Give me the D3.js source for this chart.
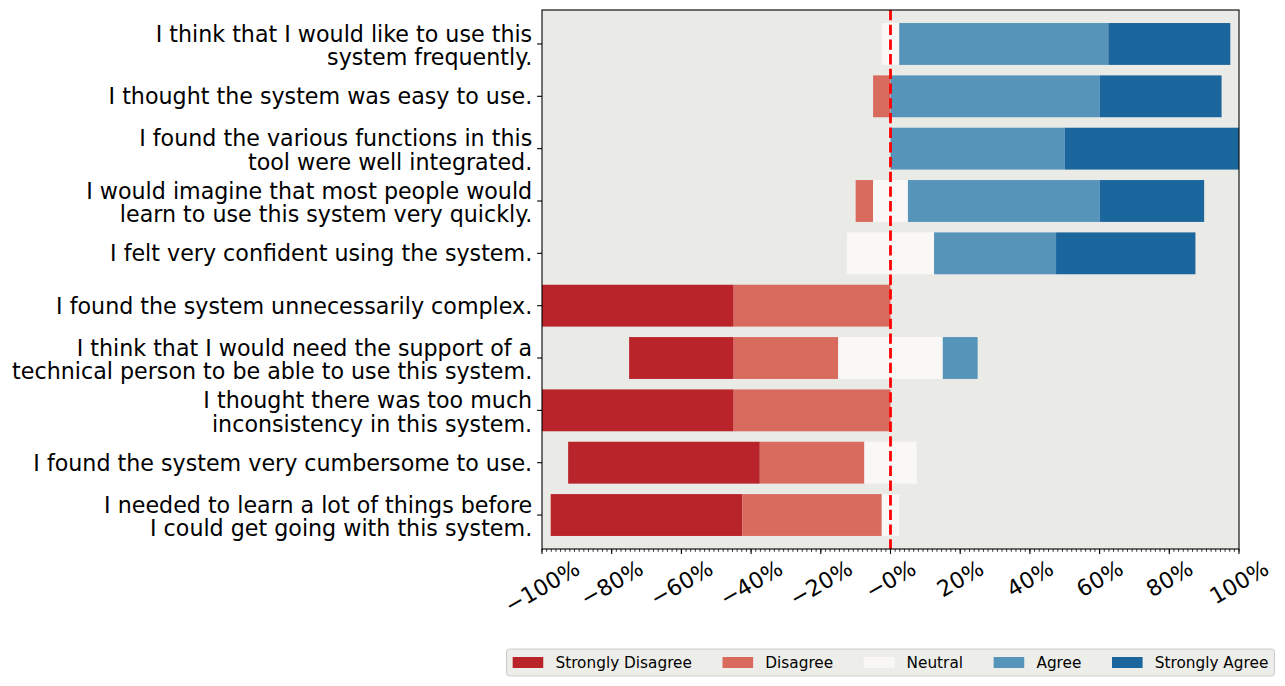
<!DOCTYPE html>
<html>
<head>
<meta charset="utf-8">
<script src="https://cdn.jsdelivr.net/npm/d3@7"></script>
<style>
  html, body { margin: 0; padding: 0; background: #fff; }
  svg { display: block; font-family: "DejaVu Sans", sans-serif; }
</style>
</head>
<body>
<svg class="chart" width="1285" height="686"></svg>
<script>
var questions = [
  'I think that I would like to use this\nsystem frequently.',
  'I thought the system was easy to use.',
  'I found the various functions in this\ntool were well integrated.',
  'I would imagine that most people would\nlearn to use this system very quickly.',
  'I felt very confident using the system.',
  'I found the system unnecessarily complex.',
  'I think that I would need the support of a\ntechnical person to be able to use this system.',
  'I thought there was too much\ninconsistency in this system.',
  'I found the system very cumbersome to use.',
  'I needed to learn a lot of things before\nI could get going with this system.'
];

var stronglyDisagree = [0, 0, 0, 0, 0, 55, 30, 55, 55, 55];
var disagree         = [0, 5, 0, 5, 0, 45, 30, 45, 30, 40];
var neutral          = [5, 0, 0, 10, 25, 0, 30, 0, 15, 5];
var agree            = [60, 60, 50, 55, 35, 0, 10, 0, 0, 0];
var stronglyAgree    = [35, 35, 50, 30, 40, 0, 0, 0, 0, 0];

var keys = ['Strongly Disagree', 'Disagree', 'Neutral', 'Agree', 'Strongly Agree'];
var colors = ['#b9242b', '#d96b5e', '#f9f8f6', '#5794ba', '#1c669e'];

var xTicks = [-100, -80, -60, -40, -20, 0, 20, 40, 60, 80, 100];
var xTickLabels = ['\u2212100%', '\u221280%', '\u221260%', '\u221240%', '\u221220%', '\u22120%',
                   '20%', '40%', '60%', '80%', '100%'];

// build rows for d3.stack
var rows = questions.map(function (q, i) {
  return {
    q: q,
    'Strongly Disagree': stronglyDisagree[i],
    'Disagree': disagree[i],
    'Neutral': neutral[i],
    'Agree': agree[i],
    'Strongly Agree': stronglyAgree[i]
  };
});

// center the neutral block on zero
var stacked = d3.stack().keys(keys)(rows);
stacked.forEach(function (s) {
  s.forEach(function (d) {
    var shift = d.data['Strongly Disagree'] + d.data['Disagree'] + d.data['Neutral'] / 2;
    d[0] -= shift;
    d[1] -= shift;
  });
});

var plotLeft = 542, plotRight = 1239, plotTop = 10, plotBottom = 549;

var svg = d3.select('.chart');

var xScale = d3.scaleLinear()
  .domain([-100, 100])
  .range([plotLeft, plotRight]);

var yScale = d3.scaleBand()
  .domain(questions)
  .range([17.8, 541.2])
  .paddingInner(0.2)
  .paddingOuter(0.1);

svg.append('rect')
  .attr('x', plotLeft).attr('y', plotTop)
  .attr('width', plotRight - plotLeft).attr('height', plotBottom - plotTop)
  .attr('fill', '#eaeae6');

svg.append('defs').append('clipPath').attr('id', 'plotclip')
  .append('rect')
  .attr('x', plotLeft).attr('y', plotTop)
  .attr('width', plotRight - plotLeft).attr('height', plotBottom - plotTop);

svg.append('g')
  .attr('clip-path', 'url(#plotclip)')
  .selectAll('g.bars')
  .data(stacked)
  .enter()
  .append('g')
  .classed('bars', true)
  .style('fill', function (d, i) { return colors[i]; })
  .selectAll('rect')
  .data(function (d) { return d.filter(function (e) { return e[1] - e[0] > 0; }); })
  .join('rect')
  .attr('x', function (d) { return xScale(d[0]); })
  .attr('y', function (d) { return yScale(d.data.q); })
  .attr('width', function (d) { return xScale(d[1]) - xScale(d[0]); })
  .attr('height', yScale.bandwidth());

// zero line
svg.append('line')
  .attr('x1', xScale(0)).attr('x2', xScale(0))
  .attr('y1', plotTop).attr('y2', plotBottom)
  .attr('stroke', 'red')
  .attr('stroke-width', 2.8)
  .attr('stroke-dasharray', '10.3,4.4');

// frame
svg.append('rect')
  .attr('x', plotLeft).attr('y', plotTop)
  .attr('width', plotRight - plotLeft).attr('height', plotBottom - plotTop)
  .attr('fill', 'none')
  .attr('stroke', '#000')
  .attr('stroke-width', 1.1);

// x axis ticks
var minorTicks = d3.range(-100, 100.01, 20 / 15);
svg.append('g').selectAll('line')
  .data(minorTicks)
  .join('line')
  .attr('x1', function (d) { return xScale(d); })
  .attr('x2', function (d) { return xScale(d); })
  .attr('y1', plotBottom).attr('y2', plotBottom + 2.8)
  .attr('stroke', '#000').attr('stroke-width', 0.8);

svg.append('g').selectAll('line')
  .data(xTicks)
  .join('line')
  .attr('x1', function (d) { return xScale(d); })
  .attr('x2', function (d) { return xScale(d); })
  .attr('y1', plotBottom).attr('y2', plotBottom + 4.9)
  .attr('stroke', '#000').attr('stroke-width', 1.1);

var fs = 22.2;
var xl = svg.append('g').selectAll('text')
  .data(xTicks)
  .join('text')
  .attr('font-size', fs)
  .attr('text-anchor', 'middle')
  .attr('dominant-baseline', 'central')
  .attr('fill', '#000')
  .text(function (d, i) { return xTickLabels[i]; });

xl.attr('transform', function (d) {
  var w = this.getComputedTextLength();
  var h = fs * 1.16;
  var H = w * 0.5 + h * 0.866;
  var cy = plotBottom + 4.9 + 1 + H / 2;
  return 'translate(' + xScale(d) + ',' + cy + ') rotate(-30)';
});

// y axis ticks and labels
var yc = function (q) { return yScale(q) + yScale.bandwidth() / 2; };

svg.append('g').selectAll('line')
  .data(questions)
  .join('line')
  .attr('x1', plotLeft - 4.9).attr('x2', plotLeft)
  .attr('y1', yc).attr('y2', yc)
  .attr('stroke', '#000').attr('stroke-width', 1.1);

svg.append('g').selectAll('text')
  .data(questions)
  .join('text')
  .attr('font-size', fs)
  .attr('text-anchor', 'end')
  .attr('fill', '#000')
  .each(function (q) {
    var lines = q.split('\n');
    var lh = 23.5;
    var y0 = yc(q) - (lines.length - 1) * lh / 2 + (lines.length > 1 ? 1.5 : 0);
    d3.select(this).selectAll('tspan')
      .data(lines)
      .join('tspan')
      .attr('x', plotLeft - 9.8)
      .attr('y', function (d, i) { return y0 + i * lh; })
      .attr('dominant-baseline', 'central')
      .text(function (d) { return d; });
  });

// legend
var lfs = 15.3;
var legend = svg.append('g');
var box = legend.append('rect')
  .attr('fill', '#edede9')
  .attr('stroke', '#cccccc')
  .attr('stroke-width', 1)
  .attr('rx', 3);

var cursor = 0;
keys.forEach(function (k, i) {
  var g = legend.append('g');
  g.append('rect')
    .attr('x', cursor).attr('y', -5.5)
    .attr('width', 30.6).attr('height', 11)
    .attr('fill', colors[i]);
  var t = g.append('text')
    .attr('x', cursor + 30.6 + 12.2)
    .attr('y', 0)
    .attr('font-size', lfs)
    .attr('dominant-baseline', 'central')
    .attr('fill', '#000')
    .text(k);
  cursor += 30.6 + 12.2 + t.node().getComputedTextLength();
  if (i < keys.length - 1) cursor += 30.6;
});

var pad = 6.1;
var legendCx = xScale(0);
var legendCy = 662.5;
legend.attr('transform', 'translate(' + (legendCx - cursor / 2) + ',' + legendCy + ')');
box.attr('x', -pad).attr('y', -13.5)
  .attr('width', cursor + 2 * pad).attr('height', 27);
</script>
</body>
</html>
